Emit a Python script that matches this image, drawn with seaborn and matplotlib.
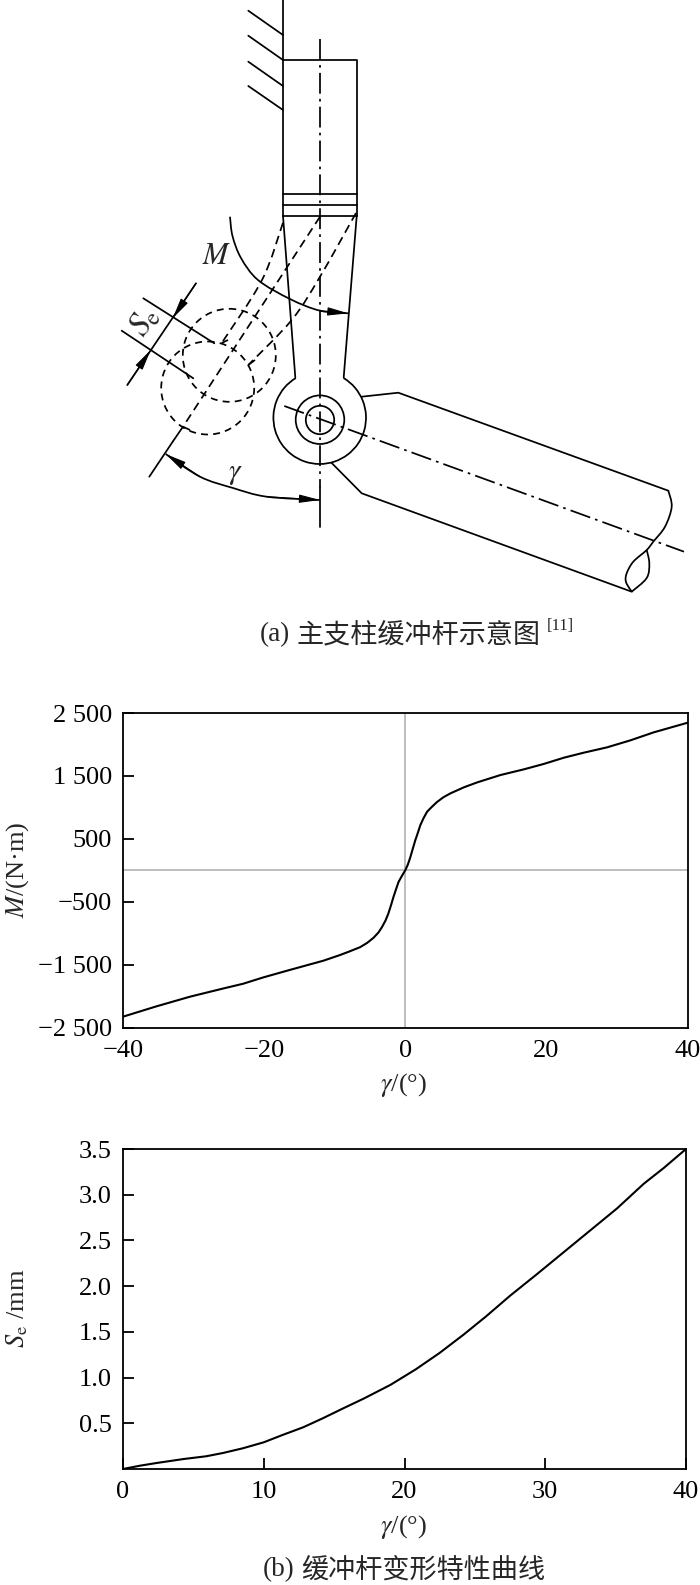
import numpy as np
import matplotlib
matplotlib.use("Agg")
import matplotlib.pyplot as plt
from matplotlib.patches import Arc, Circle, PathPatch
from matplotlib.path import Path
import seaborn as sns

# Curve M(gamma)
gamma_m = [-40, -35.3, -30.5, -25.8, -23, -20.1, -16.4, -11.6, -9.3, -8, -6.4, -5.4, -4.5, -3.8, -3.3, -2.8, -2.4, -2,
           -1.67, -1.3, -0.95, -0.5, 0, 0.35, 0.7, 1.05, 1.43, 1.8, 2.14, 2.6, 3.1, 3.7, 4.5, 5.4, 6.4, 8.3, 10.2,
           13.5, 16.8, 19.6, 22.5, 25.3, 28.6, 31.9, 35.2, 40]
moment = [-2328, -2165, -2010, -1880, -1805, -1703, -1586, -1438, -1350, -1295, -1223, -1155, -1074, -990, -904, -800,
          -690, -550, -425, -300, -186, -95, 0, 85, 200, 335, 479, 600, 718, 830, 931, 1000, 1085, 1160, 1222, 1318,
          1397, 1514, 1604, 1689, 1790, 1869, 1954, 2065, 2192, 2345]

# Curve Se(gamma)
gamma_s = [0, 1.2, 2.4, 4.3, 5.9, 7.1, 8.5, 10, 11.4, 12.8, 14.2, 15.6, 17.1, 19, 20.8, 22.5, 24.2, 25.8, 27.5, 29.4,
           31.3, 33.2, 35.1, 37, 38.4, 40]
deform = [0, 0.036, 0.066, 0.109, 0.139, 0.175, 0.226, 0.292, 0.376, 0.456, 0.555, 0.66, 0.77, 0.92, 1.09, 1.27,
          1.47, 1.67, 1.895, 2.13, 2.37, 2.61, 2.85, 3.12, 3.29, 3.5]

m_ticks = [-2500, -1500, -500, 500, 1500, 2500]
m_labels = ["\u22122 500", "\u22121 500", "\u2212500", "500", "1 500", "2 500"]
gm_ticks = [-40, -20, 0, 20, 40]
gm_labels = ["\u221240", "\u221220", "0", "20", "40"]
s_ticks = [0.5, 1.0, 1.5, 2.0, 2.5, 3.0, 3.5]
s_labels = ["0.5", "1.0", "1.5", "2.0", "2.5", "3.0", "3.5"]
gs_ticks = [0, 10, 20, 30, 40]

# Sketch outlines, in picture pixels
solid_lines = [
    [(283, 0), (283, 216)],
    [(248.3, 10.7), (283, 35)], [(248.3, 35.7), (283, 60)], [(248.3, 61.7), (283, 86)], [(248.3, 86), (283, 110)],
    [(283, 59.5), (356.7, 59.5), (356.7, 216)],
    [(283, 194), (356.7, 194)], [(283, 205), (356.7, 205)], [(283, 216), (356.7, 216)],
    [(283, 216), (295.3, 377.3)], [(356.7, 216), (343.7, 377.3)],
    [(361.7, 396.7), (398.3, 392.7), (668.3, 490.7)],
    [(331.7, 463), (361.7, 493.3), (631.7, 591.7)],
    [(149.3, 476.7), (172.7, 441.7)],
    [(143.3, 298.3), (214.3, 343.3)], [(121.7, 330.7), (193.3, 378.3)],
    [(196, 283.3), (127.3, 385)],
    [(320, 488), (320, 527)],
]
rod_end = [(668.3, 490.7), (671.7, 506.7), (665, 526.7), (653.3, 541.7), (646.7, 550), (633.3, 561.7), (626.7, 573.3),
           (626, 582), (631.7, 591.7)]
rod_loop = [(646.7, 550), (649.3, 563.3), (646.7, 578), (631.7, 591.7)]
dashed_lines = [
    [(320, 216.7), (183, 426.7)],
    [(221.7, 343), (228, 340)],
    [(248.3, 365), (255, 360)],
    [(183, 426.7), (190, 430)],
]
dashed_curves = [
    [(283, 222.7), (262, 280), (221.7, 343)],
    [(356, 213), (320, 276.7), (291.7, 320), (248.3, 365)],
]
dashdot_lines = [
    [(320, 39), (320, 488)],
    [(284.3, 406), (684, 551.7)],
    [(183, 426.7), (172.7, 441.7)],
]
moment_arc = [(230, 216.7), (232.5, 236), (241, 258), (258, 280), (290, 299), (320, 310.7), (348.3, 313.3)]
gamma_arc = [(165.7, 454), (200, 476.7), (233, 488), (266.7, 496.7), (320, 500)]
dashed_circles = [(229.3, 355.3, 46.5), (207.7, 388, 46.5)]
solid_circles = [(320, 419.7, 24.3), (320, 420, 14.2)]
hub = (319.7, 417.7, 46.3)

sns.set_theme(style="white", rc={"xtick.bottom": True, "ytick.left": True, "axes.axisbelow": False})
plt.rcParams["font.family"] = ["Liberation Serif", "Noto Sans CJK SC"]
plt.rcParams["mathtext.fontset"] = "stix"

W, H = 700, 1585
LW = 1.25
fig = plt.figure(figsize=(W / 100, H / 100), dpi=100)


def make_axes(left, right, top, bottom):
    ax = fig.add_axes([left / W, 1 - bottom / H, (right - left) / W, (bottom - top) / H])
    for s in ax.spines.values():
        s.set_color("black")
        s.set_linewidth(1.3)
    return ax


# Top curve
ax1 = make_axes(123, 687.5, 713, 1027.5)
ax1.axhline(0, color="#bdbdbd", lw=1.4, zorder=1)
ax1.axvline(0, color="#bdbdbd", lw=1.4, zorder=1)
sns.lineplot(x=gamma_m, y=moment, ax=ax1, color="black", lw=1.5, sort=False, estimator=None, zorder=3)
ax1.set_xlim(-40, 40)
ax1.set_ylim(-2500, 2500)
ax1.set_xticks(gm_ticks)
ax1.set_xticklabels(gm_labels)
ax1.set_yticks(m_ticks)
ax1.set_yticklabels(m_labels)
ax1.tick_params(axis="x", length=0, pad=9, labelsize=19, labelcolor="black")
ax1.tick_params(axis="y", direction="in", left=True, length=8, width=1.3, color="black", pad=8, labelsize=19,
                labelcolor="black")

# Bottom curve
ax2 = make_axes(123, 686, 1149, 1469)
sns.lineplot(x=gamma_s, y=deform, ax=ax2, color="black", lw=1.5, sort=False, estimator=None)
ax2.set_xlim(0, 40)
ax2.set_ylim(0, 3.5)
ax2.set_xticks(gs_ticks)
ax2.set_yticks(s_ticks)
ax2.set_yticklabels(s_labels)
ax2.tick_params(axis="x", direction="in", bottom=True, length=8, width=1.3, color="black", pad=9, labelsize=19,
                labelcolor="black")
ax2.tick_params(axis="y", direction="in", left=True, length=8, width=1.3, color="black", pad=8, labelsize=19,
                labelcolor="black")

# Sketch layer covers the whole picture
sk = fig.add_axes([0, 0, 1, 1], facecolor="none")
sk.set_xlim(0, W)
sk.set_ylim(H, 0)
sk.axis("off")


def draw(points, **kw):
    xs, ys = zip(*points)
    sk.plot(xs, ys, color="black", solid_capstyle="round", **kw)


def draw_smooth(points, **kw):
    # bezier through the outline points, for the hand drawn curves of the sketch
    p = np.array(points, dtype=float)
    verts = [p[0]]
    codes = [Path.MOVETO]
    for i in range(len(p) - 1):
        before = p[max(i - 1, 0)]
        after = p[min(i + 2, len(p) - 1)]
        verts += [p[i] + (p[i + 1] - before) / 6, p[i + 1] - (after - p[i]) / 6, p[i + 1]]
        codes += [Path.CURVE4] * 3
    sk.add_patch(PathPatch(Path(verts, codes), fill=False, ec="black", **kw))


def arrow(tip, tail):
    sk.annotate("", xy=tip, xytext=tail,
                arrowprops=dict(arrowstyle="-|>,head_length=0.85,head_width=0.17", color="black", lw=0.8,
                                shrinkA=0, shrinkB=0, mutation_scale=15))


for p in solid_lines:
    draw(p, lw=LW)
for p in dashed_lines:
    draw(p, lw=LW, ls=(0, (5, 3)))
for p in dashed_curves:
    draw_smooth(p, lw=LW, ls=(0, (5, 3)))
for p in dashdot_lines:
    draw(p, lw=LW, ls=(0, (12, 3, 1.5, 3)))
draw_smooth(moment_arc, lw=LW)
draw_smooth(gamma_arc, lw=LW)
draw_smooth(rod_end, lw=LW)
draw_smooth(rod_loop, lw=LW)
arrow(moment_arc[-1], moment_arc[-2])
arrow(gamma_arc[-1], gamma_arc[-2])
arrow(gamma_arc[0], gamma_arc[1])
arrow((172.7, 318.3), (196, 283.3))
arrow((150.7, 350), (127.3, 385))
for cx, cy, r in dashed_circles:
    sk.add_patch(Circle((cx, cy), r, fill=False, ec="black", lw=LW, ls=(0, (4, 3))))
for cx, cy, r in solid_circles:
    sk.add_patch(Circle((cx, cy), r, fill=False, ec="black", lw=LW))
sk.add_patch(Arc(hub[:2], 2 * hub[2], 2 * hub[2], theta1=301, theta2=599, ec="black", lw=LW))

# Texts
sk.text(217, 256, "$M$", fontsize=22, ha="center", va="center")
sk.text(145, 322, "$S_{\\mathrm{e}}$", fontsize=24, ha="center", va="center", rotation=56)
sk.text(235, 474, "$\\gamma$", fontsize=21, ha="center", va="center")

cjk = ["Noto Sans CJK SC", "Liberation Serif"]
sk.text(260, 635, "(a)", fontsize=19.5, ha="left", va="center")
sk.text(297, 635, "主支柱缓冲杆示意图", fontsize=19.5, ha="left", va="center", family=cjk)
sk.text(547, 626, "[11]", fontsize=12, ha="left", va="center")
sk.text(263, 1570, "(b)", fontsize=19.5, ha="left", va="center")
sk.text(301, 1570, "缓冲杆变形特性曲线", fontsize=19.5, ha="left", va="center", family=cjk)

sk.text(404, 1085, "$\\gamma$/(°)", fontsize=19, ha="center", va="center")
sk.text(404, 1527, "$\\gamma$/(°)", fontsize=19, ha="center", va="center")
sk.text(18, 870, "$M$/(N·m)", fontsize=19, ha="center", va="center", rotation=90)
sk.text(17, 1308, "$S_{\\mathrm{e}}$ /mm", fontsize=19, ha="center", va="center", rotation=90)

fig.savefig("out.png", dpi=100)
